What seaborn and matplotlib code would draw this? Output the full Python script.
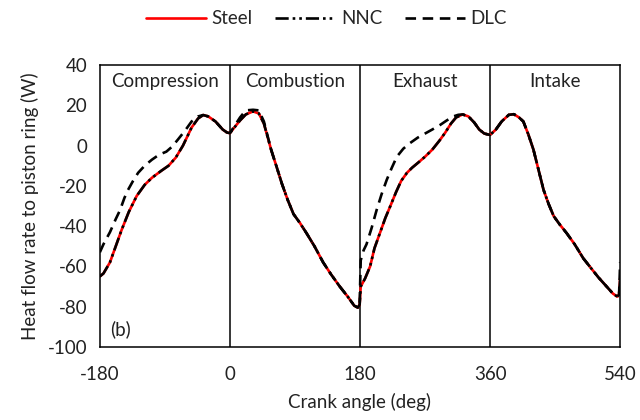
import matplotlib
matplotlib.use("Agg")
import matplotlib.pyplot as plt
import seaborn as sns
import pandas as pd

steel_angle = [-180, -175, -166, -158, -150, -140, -129, -118, -108, -95, -85, -75, -65, -53, -44, -37, -30, -20, -10, -4,
               0, 5, 14, 22, 32, 40, 47, 57, 65, 72, 80, 88, 97, 106, 117, 129, 140, 152, 163, 172, 177, 179.5,
               181, 187, 194, 200, 208, 215, 222, 230, 237, 245, 252, 262, 270, 280, 290, 298, 306, 313, 322, 330, 338, 345, 352,
               360, 368, 376, 386, 393, 400, 406, 413, 420, 427, 434, 441, 448, 456, 466, 477, 489, 500, 510, 520, 530, 536, 538.5, 540]
steel_q = [-65, -63.5, -58, -50, -42, -33, -25, -19.5, -16, -12.5, -10, -6, 0, 9, 13.5, 15.2, 14.5, 12, 8, 6.5,
           6.2, 8.5, 12.5, 15.5, 17, 16, 11, -2, -11, -19, -27, -34, -38.5, -43.5, -50, -58, -64, -70, -75, -79.5, -80.5, -79,
           -70, -66, -60, -51, -43, -36, -30, -23, -17.5, -13.5, -11, -8, -5.5, -2, 2.5, 6.5, 11, 14, 15.5, 14.5, 11.5, 8, 6,
           5.3, 8, 12, 15.3, 15.6, 14, 12, 5.5, -2, -12, -22, -29, -35, -39, -43.5, -49, -56, -61, -65.5, -69.5, -73.5, -75, -74, -66]

nnc_angle = list(steel_angle)
nnc_q = [-65, -63.5, -58, -50, -42, -33, -25, -19.5, -16, -12.5, -10, -6, 0, 9, 13.5, 15.2, 14.5, 12, 8, 6.5,
         6.2, 8.5, 12.5, 15.5, 17, 16, 11, -2, -11, -19, -27, -34, -38.5, -43.5, -50, -58, -64, -70, -75, -79.5, -80.5, -79,
         -70, -66, -60, -51, -43, -36, -30, -23, -17.5, -13.5, -11, -8, -5.5, -2, 2.5, 6.5, 11, 14, 15.5, 14.5, 11.5, 8, 6,
         5.3, 8, 12, 15.3, 15.6, 14, 12, 5.5, -2, -12, -22, -29, -35, -39, -43.5, -49, -56, -61, -65.5, -69.5, -73.5, -75, -74, -66]

dlc_angle = [-180, -175, -166, -158, -152, -146, -141, -134, -127, -118, -108, -98, -88, -80, -72, -62, -53, -44, -37, -30, -20, -10, -4,
             0, 5, 14, 22, 32, 40, 47, 57, 65, 72, 80, 88, 97, 106, 117, 129, 140, 152, 163, 172, 177, 179.5,
             181, 185, 189, 196, 203, 210, 217, 224, 231, 240, 249, 260, 270, 280, 291, 300, 309, 316, 322, 330, 338, 345, 352,
             360, 368, 376, 386, 393, 400, 406, 413, 420, 427, 434, 441, 448, 456, 466, 477, 489, 500, 510, 520, 530, 536, 538.5, 540]
dlc_q = [-53, -49, -43, -36.5, -32, -26, -22, -17.5, -13.5, -10, -7, -4.5, -3, -0.5, 3, 7.5, 12, 14.5, 15.2, 14.5, 12, 8, 6.5,
         6.2, 9, 14, 17.5, 17.8, 17.5, 12, -2, -11, -19, -27, -34, -38.5, -43.5, -50, -58, -64, -70, -75, -79.5, -80.5, -79,
         -57, -52, -49, -41, -32, -24, -17, -11, -5.5, -1.5, 1.2, 4, 6, 8, 10.3, 12.5, 14.5, 15.3, 15.5, 14.5, 11.5, 8, 6,
         5.3, 8, 12, 15.3, 15.6, 14, 12, 5.5, -2, -12, -22, -29, -35, -39, -43.5, -49, -56, -61, -65.5, -69.5, -73.5, -75, -74, -58]

series_names = ["Steel", "NNC", "DLC"]
phase_labels = ["Compression", "Combustion", "Exhaust", "Intake"]
phase_centers = [-90, 90, 270, 450]
phase_bounds = [0, 180, 360]
x_ticks = [-180, 0, 180, 360, 540]
y_ticks = [40, 20, 0, -20, -40, -60, -80, -100]

sns.set_theme(style="white")
plt.rcParams['font.family'] = ['Lato', 'DejaVu Sans']
plt.rcParams['axes.unicode_minus'] = False

df = pd.concat([
    pd.DataFrame({"angle": steel_angle, "q": steel_q, "material": "Steel"}),
    pd.DataFrame({"angle": nnc_angle, "q": nnc_q, "material": "NNC"}),
    pd.DataFrame({"angle": dlc_angle, "q": dlc_q, "material": "DLC"}),
], ignore_index=True)

fig = plt.figure(figsize=(6.4, 4.2), dpi=100)
ax = fig.add_axes([0.156, 0.174, 0.813, 0.671])

palette = {"Steel": "#ff0000", "NNC": "black", "DLC": "black"}
dashes = {"Steel": "", "NNC": (5, 1.5, 1, 1.5, 1, 1.5), "DLC": (4, 2.5)}
sns.lineplot(data=df, x="angle", y="q", hue="material", style="material",
             hue_order=series_names, style_order=series_names,
             palette=palette, dashes=dashes, estimator=None, sort=False,
             linewidth=1.9, ax=ax, legend=True)

for b in phase_bounds:
    ax.axvline(b, color="black", linewidth=1.1, zorder=0)

fs = 13.5
for lab, c in zip(phase_labels, phase_centers):
    ax.text(c, 32, lab, ha="center", va="center", fontsize=fs, color="#222222")
ax.text(-166, -91, "(b)", ha="left", va="center", fontsize=fs, color="#222222")

ax.set_xlim(-180, 540)
ax.set_ylim(-100, 40)
ax.set_xticks(x_ticks)
ax.set_yticks(y_ticks)
ax.tick_params(axis="x", length=0, labelsize=fs, pad=14, colors="#222222")
ax.tick_params(axis="y", length=0, labelsize=fs, pad=9, colors="#222222")
for s in ax.spines.values():
    s.set_color("black")
    s.set_linewidth(1.1)
ax.set_xlabel("Crank angle (deg)", fontsize=fs, color="#222222", labelpad=7)
ax.set_ylabel("Heat flow rate to piston ring (W)", fontsize=fs, color="#222222", labelpad=6)

handles, labels = ax.get_legend_handles_labels()
ax.get_legend().remove()
fig.legend(handles, labels, loc="center", bbox_to_anchor=(0.51, 0.955), ncol=3,
           frameon=False, fontsize=fs, handlelength=3.2, columnspacing=1.2, handletextpad=0.3)

fig.savefig("out.png", dpi=100)
